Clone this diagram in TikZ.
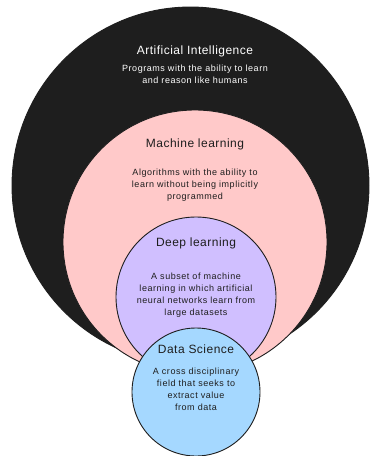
\documentclass[tikz,border=0pt]{standalone}
\usepackage{fontspec}
\setmainfont{Liberation Sans}
\newfontfamily\ttlfont[LetterSpace=4]{Liberation Sans}
\newfontfamily\dscfont[LetterSpace=6]{Liberation Sans}
\definecolor{ink}{HTML}{1E1E1E}
\definecolor{aifill}{HTML}{1E1E1E}
\definecolor{mlfill}{HTML}{FFC9C9}
\definecolor{dlfill}{HTML}{D0BFFF}
\definecolor{dsfill}{HTML}{A5D8FF}
\begin{document}
\begin{tikzpicture}[x=1pt,y=-1pt,
  ring/.style={circle, draw=ink, line width=0.9pt, inner sep=0pt},
  ttl/.style={font=\ttlfont\fontsize{12}{14}\selectfont, align=center, inner sep=0pt},
  dsc/.style={font=\dscfont\fontsize{9}{12}\selectfont, align=center, inner sep=0pt}]
\useasboundingbox[fill=white] (0,0) rectangle (370,456);
\node[ring, fill=aifill, minimum size=357pt] (ai) at (190.5,185.5) {};
\node[ring, fill=mlfill, minimum size=264pt] (ml) at (195,242) {};
\node[ring, fill=dlfill, minimum size=160pt] (dl) at (196,297) {};
\node[ring, fill=dsfill, minimum size=128pt] (ds) at (196,392) {};
\node[ttl, text=white] (aiT) at (195,51) {Artificial Intelligence};
\node[dsc, text=white] (aiD) at (195,74) {Programs with the ability to learn\\and reason like humans};
\node[ttl, text=ink] (mlT) at (195,144) {Machine learning};
\node[dsc, text=ink] (mlD) at (195,185) {Algorithms with the ability to\\learn without being implicitly\\programmed};
\node[ttl, text=ink] (dlT) at (196,243) {Deep learning};
\node[dsc, text=ink] (dlD) at (196,295) {A subset of machine\\learning in which artificial\\neural networks learn from\\large datasets};
\node[ttl, text=ink] (dsT) at (196,349) {Data Science};
\node[dsc, text=ink] (dsD) at (196,389) {A cross disciplinary\\field that seeks to\\extract value\\from data};
\end{tikzpicture}
\end{document}
